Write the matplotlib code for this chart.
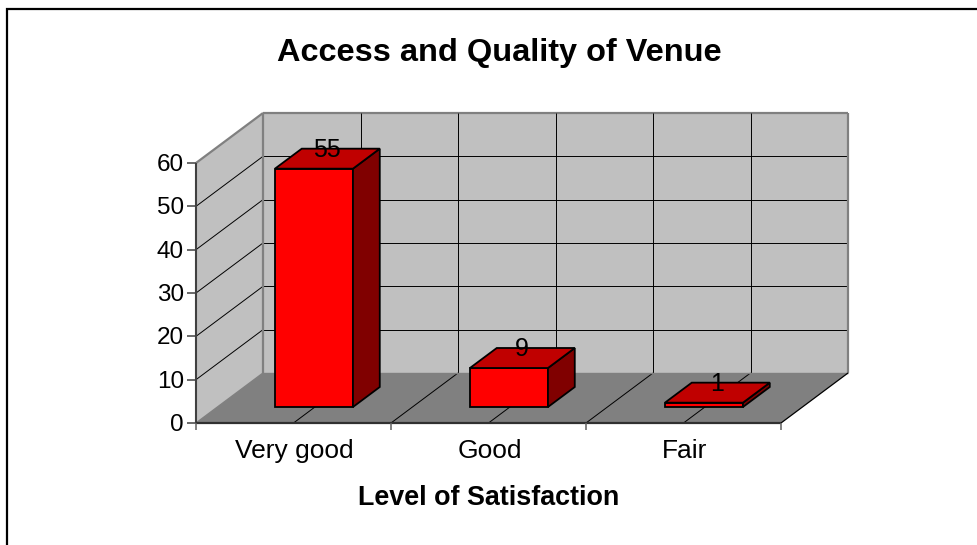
import matplotlib
matplotlib.use("Agg")
import matplotlib.pyplot as plt
from matplotlib.patches import Polygon

plt.rcParams['font.family'] = ['Liberation Sans', 'DejaVu Sans']

title = "Access and Quality of Venue"
xlabel = "Level of Satisfaction"
categories = ["Very good", "Good", "Fair"]
values = [55, 9, 1]
yticks = [0, 10, 20, 30, 40, 50, 60]
YMAX = 60

# oblique projection geometry (pixels)
X0, Y0 = 196, 423
CAT_W = 195
H_MAX = 260
DX, DY = 67, 50
BAR_W = 0.4
BAR_SHIFT = -0.005
D_FRONT, D_BACK = 0.32, 0.72
HALF = 0.5

def P(c, v, d):
    return (X0 + c * CAT_W + d * DX, Y0 - v / YMAX * H_MAX - d * DY)

W, H = 978, 545
fig = plt.figure(figsize=(W / 100, H / 100), dpi=100, facecolor='white')
ax = fig.add_axes([0, 0, 1, 1])
ax.set_xlim(0, W)
ax.set_ylim(H, 0)
ax.axis('off')

n = len(categories)
# walls and floor
ax.add_patch(Polygon([P(0, 0, 1), P(n, 0, 1), P(n, YMAX, 1), P(0, YMAX, 1)], fc='#C0C0C0', ec='none', zorder=1))
ax.add_patch(Polygon([P(0, 0, 0), P(0, 0, 1), P(0, YMAX, 1), P(0, YMAX, 0)], fc='#C0C0C0', ec='none', zorder=1))
ax.add_patch(Polygon([P(0, 0, 0), P(n, 0, 0), P(n, 0, 1), P(0, 0, 1)], fc='#808080', ec='none', zorder=1))

def line(a, b, color='black', lw=0.7, z=2):
    ax.plot([a[0], b[0]], [a[1], b[1]], color=color, lw=lw, zorder=z, solid_capstyle='butt')

# gridlines
for t in yticks[1:-1]:
    line(P(0, t, 0), P(0, t, 1))
    line(P(0, t, 1), P(n, t, 1))
line(P(0, YMAX, 1), P(n, YMAX, 1), '#808080', 1.6)
for k in range(1, 2 * n):
    c = k * HALF
    line(P(c, 0, 1), P(c, YMAX, 1))
    line(P(c, 0, 0), P(c, 0, 1))
# wall edges
line(P(0, YMAX, 0), P(0, YMAX, 1), '#808080', 1.6, 3)
line(P(0, 0, 1), P(0, YMAX, 1), '#808080', 1.6, 3)
line(P(n, 0, 1), P(n, YMAX, 1), '#808080', 1.6, 3)
line(P(0, 0, 0), P(0, 0, 1), '#808080', 1.0, 3)
line(P(n, 0, 0), P(n, 0, 1), 'black', 0.9, 3)
line(P(0, 0, 1), P(n, 0, 1), '#808080', 1.0, 2)

# bars
for i, v in enumerate(values):
    l = i + 0.5 + BAR_SHIFT - BAR_W / 2
    r = i + 0.5 + BAR_SHIFT + BAR_W / 2
    kw = dict(ec='black', lw=1.3, joinstyle='miter', zorder=5)
    ax.add_patch(Polygon([P(l, 0, D_FRONT), P(r, 0, D_FRONT), P(r, v, D_FRONT), P(l, v, D_FRONT)], fc='#FF0000', **kw))
    ax.add_patch(Polygon([P(r, 0, D_FRONT), P(r, 0, D_BACK), P(r, v, D_BACK), P(r, v, D_FRONT)], fc='#800000', **kw))
    ax.add_patch(Polygon([P(l, v, D_FRONT), P(r, v, D_FRONT), P(r, v, D_BACK), P(l, v, D_BACK)], fc='#C00000', **kw))
    tx, ty = P(i + 0.5, v, (D_FRONT + D_BACK) / 2)
    ax.text(tx - 1.5, ty - 2, str(v), ha='center', va='baseline', fontsize=18, color='black', zorder=6)

# axes
line(P(0, 0, 0), P(0, YMAX, 0), '#404040', 1.5, 4)
line(P(0, 0, 0), P(n, 0, 0), '#303030', 1.6, 4)
for t in yticks:
    x, y = P(0, t, 0)
    line((x - 9, y), (x, y), '#404040', 1.1, 4)
    ax.text(x - 12, y + 8, str(t), ha='right', va='baseline', fontsize=17.5, color='black')
for k in range(n + 1):
    x, y = P(k, 0, 0)
    line((x, y), (x, y + 7), '#606060', 1.1, 4)
for i, name in enumerate(categories):
    x, y = P(i + 0.5, 0, 0)
    ax.text(x + 1, 458, name, ha='center', va='baseline', fontsize=19, color='black')

ax.text(488.5, 505, xlabel, ha='center', va='baseline', fontsize=19.4, fontweight='bold', color='black')
ax.text(499, 61, title, ha='center', va='baseline', fontsize=23.4, fontweight='bold', color='black')

# chart frame (extends past the right and bottom of the picture)
ax.plot([W, 7, 7], [9, 9, H], color='black', lw=1.6, zorder=7, solid_joinstyle='miter')
ax.plot([7, W], [7.5, 7.5], color='#A0A0A0', lw=0.7, zorder=6)

fig.savefig('out.png', dpi=100, facecolor='white')
